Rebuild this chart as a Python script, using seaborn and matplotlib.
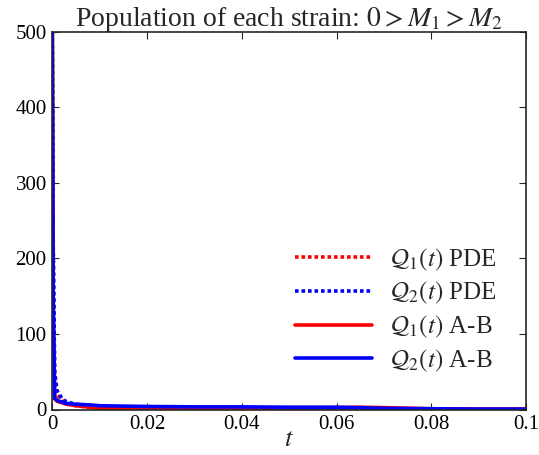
import matplotlib
matplotlib.use("Agg")
import pandas as pd
import matplotlib.pyplot as plt
import seaborn as sns

# Time grid and population values
t = [0.0, 0.0002, 0.0005, 0.001, 0.002, 0.003, 0.005, 0.008, 0.01, 0.015,
     0.02, 0.03, 0.04, 0.05, 0.06, 0.065, 0.07, 0.08, 0.09, 0.1]
q1_pde = [500, 200, 40, 20, 12, 8, 5, 3, 2, 1,
          0.5, 0.4, 0.3, 0.3, 0.2, 0.2, 0.2, 0.1, 0.1, 0.1]
q2_pde = [500, 220, 50, 25, 15, 10, 7, 5, 3.5, 2.5,
          2, 1.5, 1.2, 1, 1, 0.8, 0.8, 0.6, 0.5, 0.5]
q1_ab = [500, 120, 14, 11, 9, 7, 5, 3, 2, 1.5,
         1.5, 2, 2, 2.5, 2.5, 3, 2.5, 1, 0.5, 0.5]
q2_ab = [500, 150, 15, 12, 10, 8, 7, 6, 5, 4.5,
         4, 3.5, 3.5, 3, 3, 2.5, 1.5, 1, 0.5, 0.5]

labels = [r"$\mathcal{Q}_1(t)$ PDE", r"$\mathcal{Q}_2(t)$ PDE",
          r"$\mathcal{Q}_1(t)$ A-B", r"$\mathcal{Q}_2(t)$ A-B"]
series = [q1_pde, q2_pde, q1_ab, q2_ab]

df = pd.concat([pd.DataFrame({"t": t, "pop": s, "curve": lab})
                for s, lab in zip(series, labels)])

sns.set_style("ticks")
plt.rcParams["font.family"] = ["Liberation Serif", "DejaVu Serif"]
plt.rcParams["mathtext.fontset"] = "stix"

fig, ax = plt.subplots(figsize=(5.39, 4.55), dpi=100)
sns.lineplot(data=df, x="t", y="pop", hue="curve", style="curve",
             palette=["red", "blue", "red", "blue"],
             dashes=[(1, 0.8), (1, 0.8), "", ""],
             linewidth=2.6, ax=ax)

ax.set_xlim(0, 0.1)
ax.set_ylim(0, 500)
ax.set_xticks([0, 0.02, 0.04, 0.06, 0.08, 0.1])
ax.set_xticklabels(["0", "0.02", "0.04", "0.06", "0.08", "0.1"])
ax.set_yticks([0, 100, 200, 300, 400, 500])
ax.tick_params(direction="in", top=True, right=True, labelsize=15,
               length=5, width=0.8, colors="#262626", labelcolor="black",
               pad=4)
for sp in ax.spines.values():
    sp.set_linewidth(1.2)
    sp.set_color("#262626")
ax.set_xlabel(r"$t$", fontsize=19, labelpad=-4)
ax.set_ylabel("")
ax.set_title(r"Population of each strain: $0 > M_1 > M_2$", fontsize=20, pad=4)

leg = ax.legend(loc="lower right", bbox_to_anchor=(0.985, 0.035), frameon=False,
                fontsize=18, handlelength=3.1, labelspacing=0.3,
                handletextpad=0.7)

fig.subplots_adjust(left=0.097, right=0.976, top=0.93, bottom=0.1)
fig.savefig("out.png", dpi=100)
